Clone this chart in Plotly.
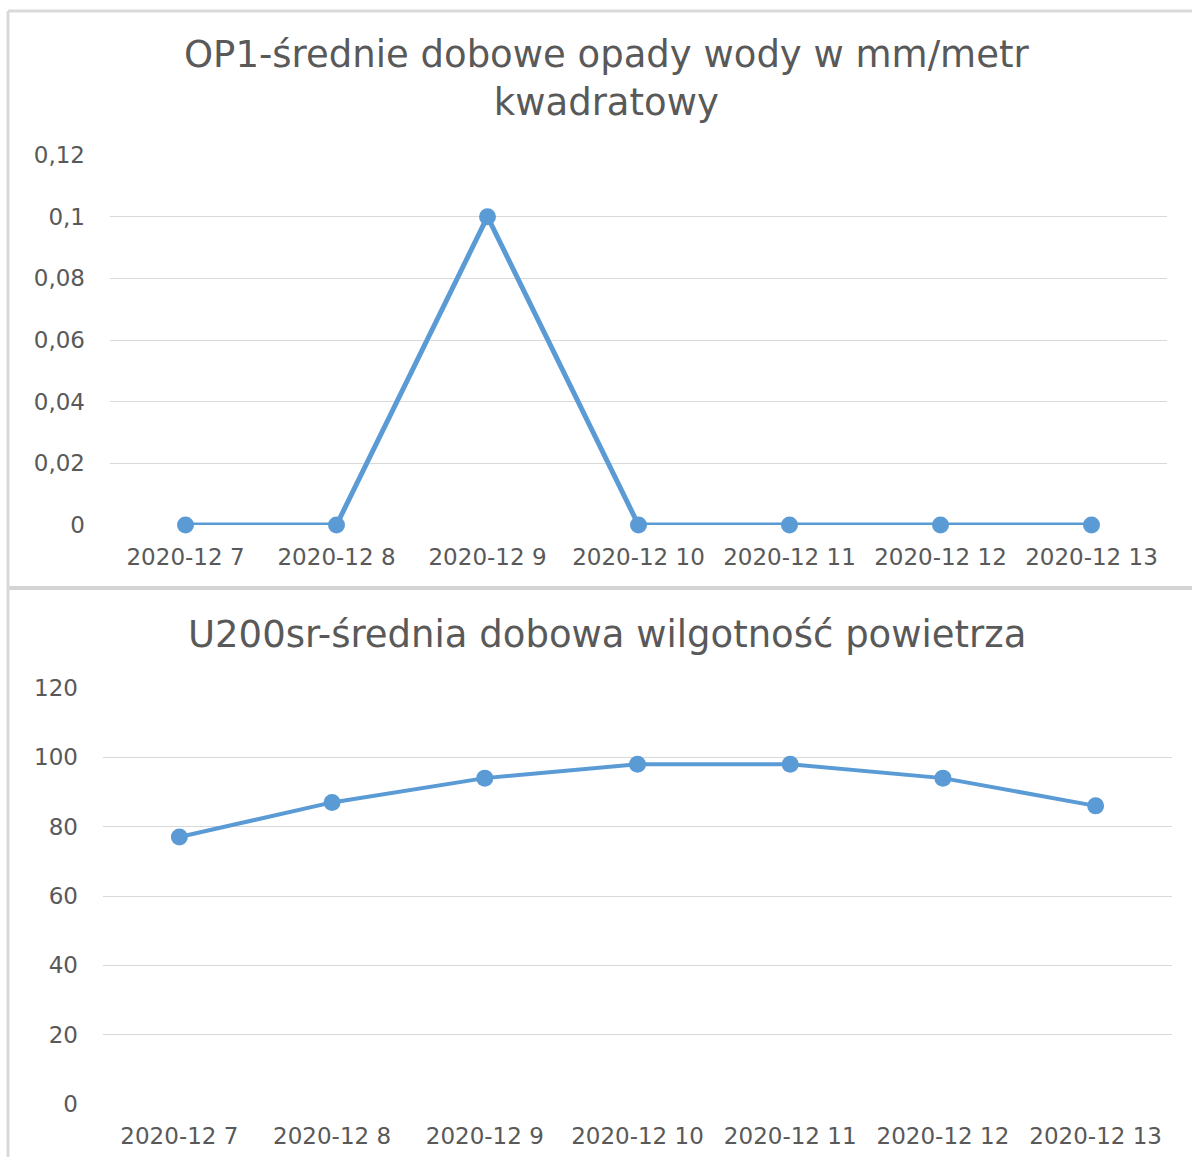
import plotly.graph_objects as go

dates = ["2020-12 7", "2020-12 8", "2020-12 9", "2020-12 10", "2020-12 11", "2020-12 12", "2020-12 13"]
opady = [0, 0, 0.1, 0, 0, 0, 0]
wilgotnosc = [77, 87, 94, 98, 98, 94, 86]

title_top = "OP1-średnie dobowe opady wody w mm/metr<br>kwadratowy"
title_bottom = "U200sr-średnia dobowa wilgotność powietrza"

top_tickvals = [0, 0.02, 0.04, 0.06, 0.08, 0.1, 0.12]
top_ticktext = ["0", "0,02", "0,04", "0,06", "0,08", "0,1", "0,12"]
bottom_tickvals = [0, 20, 40, 60, 80, 100, 120]
bottom_ticktext = ["0", "20", "40", "60", "80", "100", "120"]

W, H = 1192, 1157
BLUE = "#5b9bd5"
GRID = "#d9d9d9"
TXT = "#595959"
FONT = "DejaVu Sans"

def py(p):
    return 1 - p / H

def px(p):
    return p / W

fig = go.Figure()
fig.add_trace(go.Scatter(x=dates, y=opady, mode="lines+markers", xaxis="x", yaxis="y",
                         line=dict(color=BLUE, width=5), marker=dict(size=17, color=BLUE),
                         showlegend=False, cliponaxis=False))
fig.add_trace(go.Scatter(x=dates, y=wilgotnosc, mode="lines+markers", xaxis="x2", yaxis="y2",
                         line=dict(color=BLUE, width=4), marker=dict(size=17, color=BLUE),
                         showlegend=False, cliponaxis=False))

axfont = dict(family=FONT, size=23, color=TXT)
xcommon = dict(type="category", showgrid=False, zeroline=False, showline=False, ticks="",
               tickfont=axfont, ticklabelstandoff=16, range=[-0.5, 6.5], fixedrange=True,
               automargin=False)
ycommon = dict(showgrid=True, gridcolor=GRID, gridwidth=1, zeroline=False, showline=False,
               ticks="", tickfont=axfont, ticklabelstandoff=24, fixedrange=True,
               automargin=False)

fig.update_layout(
    width=W, height=H,
    margin=dict(l=0, r=0, t=0, b=0, autoexpand=False),
    paper_bgcolor="white", plot_bgcolor="white",
    font=dict(family=FONT, color=TXT),
    xaxis=dict(domain=[px(110), px(1167)], anchor="y", **xcommon),
    yaxis=dict(domain=[py(525), py(155)], anchor="x", range=[0, 0.12],
               tickvals=top_tickvals, ticktext=top_ticktext, **ycommon),
    xaxis2=dict(domain=[px(103), px(1172)], anchor="y2", **xcommon),
    yaxis2=dict(domain=[py(1104), py(688)], anchor="x2", range=[0, 120],
                tickvals=bottom_tickvals, ticktext=bottom_ticktext, **ycommon),
)

fig.add_annotation(text=title_top, xref="paper", yref="paper", x=px(606), y=py(79),
                   xanchor="center", yanchor="middle", showarrow=False,
                   font=dict(family=FONT, size=37, color=TXT))
fig.add_annotation(text=title_bottom, xref="paper", yref="paper", x=px(607), y=py(634),
                   xanchor="center", yanchor="middle", showarrow=False,
                   font=dict(family=FONT, size=37, color=TXT))

# chart borders
fig.add_shape(type="line", xref="paper", yref="paper", x0=px(8), x1=1, y0=py(11), y1=py(11),
              line=dict(color="#d9d9d9", width=3))
fig.add_shape(type="line", xref="paper", yref="paper", x0=px(8), x1=1, y0=py(588), y1=py(588),
              line=dict(color="#d4d4d4", width=4))
fig.add_shape(type="line", xref="paper", yref="paper", x0=px(8), x1=px(8), y0=py(11), y1=0,
              line=dict(color="#d9d9d9", width=3))

fig.write_html("out.html", config={"displayModeBar": False},
               post_script="document.body.style.margin='0';")
